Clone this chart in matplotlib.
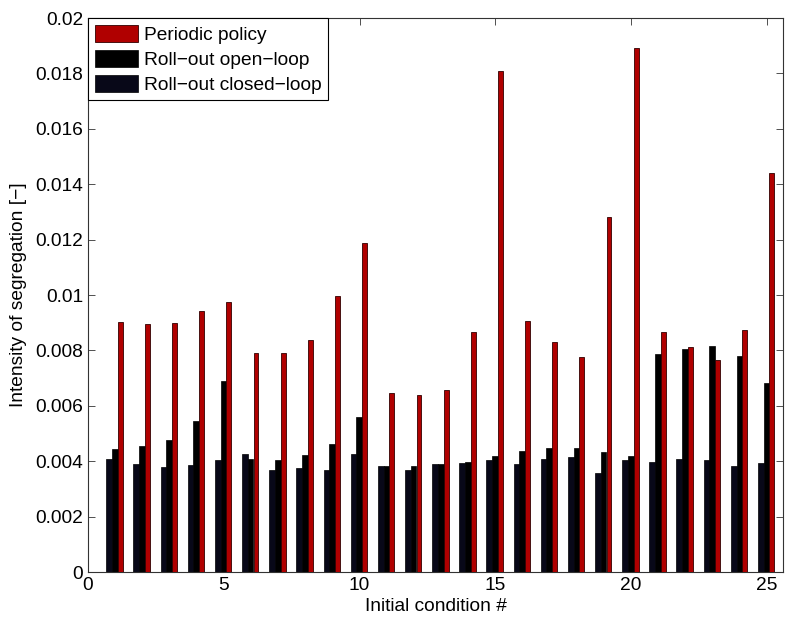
import matplotlib.pyplot as plt
import numpy as np

# --- data ---
conditions = np.arange(1, 26)

periodic = [0.00904, 0.00894, 0.00899, 0.00942, 0.00974, 0.00792, 0.00790, 0.00836,
            0.00998, 0.01188, 0.00645, 0.00640, 0.00657, 0.00868, 0.01808, 0.00907,
            0.00829, 0.00776, 0.01283, 0.01890, 0.00868, 0.00812, 0.00765, 0.00873,
            0.01440]
open_loop = [0.00443, 0.00456, 0.00477, 0.00545, 0.00689, 0.00407, 0.00406, 0.00421,
             0.00461, 0.00560, 0.00383, 0.00383, 0.00391, 0.00397, 0.00420, 0.00438,
             0.00448, 0.00447, 0.00433, 0.00418, 0.00787, 0.00806, 0.00816, 0.00779,
             0.00681]
closed_loop = [0.00408, 0.00391, 0.00379, 0.00386, 0.00404, 0.00426, 0.00368, 0.00377,
               0.00368, 0.00426, 0.00383, 0.00368, 0.00391, 0.00395, 0.00404, 0.00390,
               0.00408, 0.00414, 0.00357, 0.00404, 0.00396, 0.00407, 0.00403, 0.00382,
               0.00392]

labels = ["Periodic policy", "Roll\u2212out open\u2212loop", "Roll\u2212out closed\u2212loop"]

plt.rcParams["font.family"] = ["Liberation Sans", "DejaVu Sans"]
plt.rcParams["font.size"] = 13.8

fig = plt.figure(figsize=(7.87, 6.17), dpi=100)
ax = fig.add_axes([0.1118, 0.0729, 0.8832, 0.8979])

# grouped bars: closed-loop left, open-loop middle, periodic right
b_red = ax.bar(conditions + 0.19, periodic, width=0.18, color="#b00000",
               edgecolor="#300000", linewidth=0.6, label=labels[0], zorder=3)
b_blk = ax.bar(conditions - 0.01, open_loop, width=0.21, color="#000000",
               edgecolor="#000000", linewidth=0.5, label=labels[1], zorder=2)
b_nav = ax.bar(conditions - 0.22, closed_loop, width=0.21, color="#080818",
               edgecolor="#000000", linewidth=0.5, label=labels[2], zorder=2)

ax.set_xlim(0, 25.6)
ax.set_ylim(0, 0.02)
ax.set_xticks(np.arange(0, 26, 5))
yt = np.arange(0, 0.0201, 0.002)
ax.set_yticks(yt)
ax.set_yticklabels(["0"] + ["%g" % round(v, 3) for v in yt[1:]])

ax.tick_params(direction="in", length=5, width=0.6, top=True, right=True,
               colors="#333333", labelcolor="black")
for s in ax.spines.values():
    s.set_linewidth(0.8)
    s.set_color("#333333")

ax.set_xlabel("Initial condition #", labelpad=3)
ax.set_ylabel("Intensity of segregation [\u2212]", labelpad=6)

leg = ax.legend(handles=[b_red, b_blk, b_nav], loc="upper left",
                borderaxespad=0, fancybox=False, framealpha=1,
                edgecolor="black", handlelength=2.25, handleheight=1.0,
                handletextpad=0.3, labelspacing=0.3, borderpad=0.35)
leg.get_frame().set_linewidth(0.8)

fig.savefig("out.png", dpi=100)
